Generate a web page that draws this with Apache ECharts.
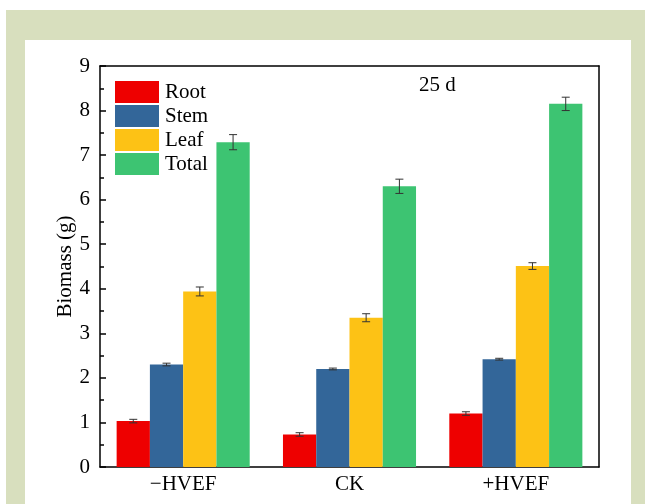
<!DOCTYPE html>
<html>
<head>
<meta charset="utf-8">
<script src="https://cdn.jsdelivr.net/npm/echarts@6/dist/echarts.min.js"></script>
<style>html,body{margin:0;padding:0;background:#fff;}#c{width:645px;height:504px;}</style>
</head>
<body>
<div id="c"></div>
<script>
const categories = ['\u2212HVEF', 'CK', '+HVEF'];
const seriesNames = ['Root', 'Stem', 'Leaf', 'Total'];
const rootVals = [1.03, 0.73, 1.20];
const stemVals = [2.30, 2.20, 2.42];
const leafVals = [3.94, 3.35, 4.51];
const totalVals = [7.29, 6.30, 8.15];
const rootErr = [0.04, 0.04, 0.04];
const stemErr = [0.03, 0.02, 0.02];
const leafErr = [0.10, 0.09, 0.075];
const totalErr = [0.17, 0.16, 0.15];
const colors = ['#ee0000', '#336699', '#fdc215', '#3dc472'];
const yTicks = [0, 1, 2, 3, 4, 5, 6, 7, 8, 9];

const vals = [rootVals, stemVals, leafVals, totalVals];
const errs = [rootErr, stemErr, leafErr, totalErr];
const font = '"Liberation Serif", "Times New Roman", serif';

const chart = echarts.init(document.getElementById('c'));
const series = [];
vals.forEach((v, i) => {
  series.push({
    name: seriesNames[i], type: 'bar', data: v,
    barGap: '0%', barCategoryGap: '20%',
    itemStyle: { color: colors[i] }, z: 2
  });
});
vals.forEach((v, i) => {
  series.push({
    type: 'custom', name: 'err' + i,
    data: v.map((val, k) => [k, val, errs[i][k]]),
    z: 5,
    renderItem: function (params, api) {
      const k = api.value(0), val = api.value(1), e = api.value(2);
      const band = api.size([1, 0])[0];
      const bw = band * 0.8 / 4;
      const cx = api.coord([k, val])[0] + (i - 1.5) * bw;
      const yh = api.coord([k, val + e])[1];
      const yl = api.coord([k, val - e])[1];
      const cw = 4;
      const st = { stroke: '#333', lineWidth: 1, fill: null };
      return { type: 'group', children: [
        { type: 'line', shape: { x1: cx, y1: yh, x2: cx, y2: yl }, style: st },
        { type: 'line', shape: { x1: cx - cw, y1: yh, x2: cx + cw, y2: yh }, style: st },
        { type: 'line', shape: { x1: cx - cw, y1: yl, x2: cx + cw, y2: yl }, style: st }
      ]};
    }
  });
});

chart.setOption({
  animation: false,
  backgroundColor: '#fff',
  graphic: [
    { type: 'rect', shape: { x: 6, y: 10, width: 639, height: 494 }, style: { fill: '#d8dfbe' }, z: -10 },
    { type: 'rect', shape: { x: 25, y: 40, width: 606, height: 464 }, style: { fill: '#ffffff' }, z: -9 },
    { type: 'text', left: 419, top: 75, style: { text: '25 d', font: '21px ' + font, fill: '#000' } }
  ],
  legend: {
    data: seriesNames, orient: 'vertical', left: 115, top: 81, padding: 0,
    itemWidth: 44, itemHeight: 22, itemGap: 2,
    icon: 'rect',
    textStyle: { fontFamily: font, fontSize: 21, color: '#000', padding: [0, 0, 0, 1] }
  },
  grid: { left: 100, top: 66, right: 46, bottom: 37 },
  xAxis: [{
    type: 'category', data: categories,
    axisLine: { lineStyle: { color: '#000', width: 1.5 } },
    axisTick: { inside: true, alignWithLabel: true, length: 5, lineStyle: { color: '#000', width: 1.5 } },
    axisLabel: { fontFamily: font, fontSize: 21, color: '#000', margin: 7 }
  }, {
    type: 'category', data: categories, position: 'top',
    axisLine: { show: true, onZero: false, lineStyle: { color: '#000', width: 1.5 } },
    axisTick: { show: false }, axisLabel: { show: false }
  }],
  yAxis: [{
    type: 'value', min: 0, max: 9, interval: 1,
    name: 'Biomass (g)', nameLocation: 'middle', nameGap: 24, nameMoveOverlap: false,
    nameTextStyle: { fontFamily: font, fontSize: 21, color: '#000' },
    axisLine: { show: true, lineStyle: { color: '#000', width: 1.5 } },
    axisTick: { show: true, inside: true, length: 6, lineStyle: { color: '#000', width: 1.5 } },
    minorTick: { show: true, splitNumber: 2, length: 4, lineStyle: { color: '#000', width: 1.5 } },
    splitLine: { show: false },
    axisLabel: { fontFamily: font, fontSize: 21, color: '#000', margin: 10,
      formatter: v => yTicks.includes(v) ? String(v) : '' }
  }, {
    type: 'value', min: 0, max: 9, interval: 1, position: 'right',
    axisLine: { show: true, onZero: false, lineStyle: { color: '#000', width: 1.5 } },
    axisTick: { show: false }, axisLabel: { show: false }, splitLine: { show: false }
  }],
  series: series
});
</script>
</body>
</html>
